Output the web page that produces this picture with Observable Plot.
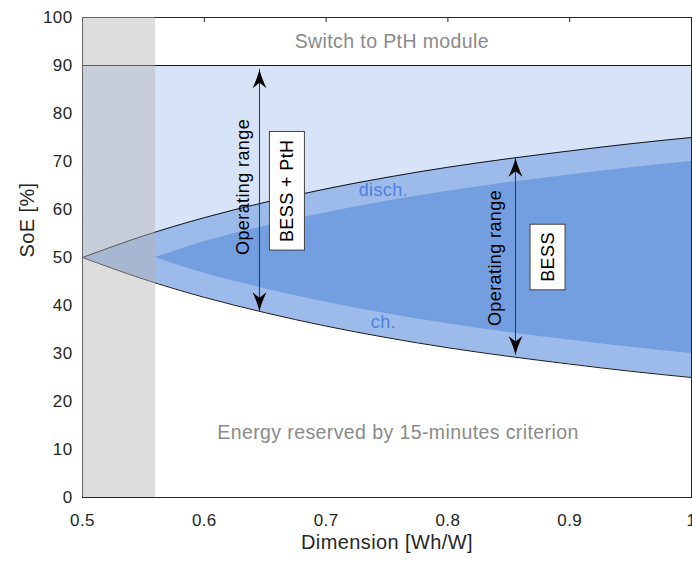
<!DOCTYPE html>
<html>
<head>
<meta charset="utf-8">
<script src="https://cdn.jsdelivr.net/npm/d3@7"></script>
<script src="https://cdn.jsdelivr.net/npm/@observablehq/plot@0.6"></script>
<style>
  html, body { margin: 0; padding: 0; background: #fff; }
  #chart svg text { letter-spacing: 0.4px; }
</style>
</head>
<body>
<div id="chart"></div>
<script>
// State-of-energy envelope versus storage dimension
const dimension = [0.5, 0.55, 0.6, 0.65, 0.7, 0.75, 0.8, 0.85, 0.9, 0.95, 1.0];
const soeUpper  = [50, 54.5, 58.3, 61.5, 64.3, 66.7, 68.8, 70.6, 72.2, 73.7, 75];
const soeLower  = [50, 45.5, 41.7, 38.5, 35.7, 33.3, 31.2, 29.4, 27.8, 26.3, 25];

// BESS-only operating band (starts where the greyed-out region ends)
const dimensionBess = [0.56, 0.6, 0.65, 0.7, 0.75, 0.8, 0.85, 0.9, 0.95, 1.0];
const bessUpper     = [50, 53.3, 56.5, 59.3, 61.7, 63.8, 65.6, 67.2, 68.7, 70];
const bessLower     = [50, 46.7, 43.5, 40.7, 38.3, 36.2, 34.4, 32.8, 31.3, 30];

const pthLimit = 90;
const excludedRange = [0.5, 0.56];

const xTicks = [0.5, 0.6, 0.7, 0.8, 0.9, 1];
const xTickLabels = ["0.5", "0.6", "0.7", "0.8", "0.9", "1"];
const yTicks = [0, 10, 20, 30, 40, 50, 60, 70, 80, 90, 100];
const topTicks = [0.6, 0.7, 0.8, 0.9];

// Operating-range arrows
const arrowX    = [0.6453, 0.8555];
const arrowLow  = [38.8, 29.7];
const arrowHigh = [89.2, 70.8];

// Annotation texts
const noteText = ["Switch to PtH module", "Energy reserved by 15-minutes criterion"];
const noteX = [0.754, 0.759];
const noteY = [95, 13.5];

const bandText = ["disch.", "ch."];
const bandX = [0.747, 0.747];
const bandY = [64, 36.5];

const rangeText = ["Operating range", "Operating range"];
const rangeX = [0.632, 0.839];
const rangeY = [64.7, 49.9];

const boxText = ["BESS + PtH", "BESS"];
const boxX = [0.668, 0.882];
const boxY = [63.9, 50.1];

const outer = dimension.map((x, i) => ({x, hi: soeUpper[i], lo: soeLower[i]}));
const inner = dimensionBess.map((x, i) => ({x, hi: bessUpper[i], lo: bessLower[i]}));
const arrows = arrowX.map((x, i) => ({x, lo: arrowLow[i], hi: arrowHigh[i]}));
const notes = noteText.map((t, i) => ({t, x: noteX[i], y: noteY[i]}));
const bands = bandText.map((t, i) => ({t, x: bandX[i], y: bandY[i]}));
const ranges = rangeText.map((t, i) => ({t, x: rangeX[i], y: rangeY[i]}));
const boxes = boxText.map((t, i) => ({t, x: boxX[i], y: boxY[i]}));

// Concave-back arrowhead, tip at the origin, body extending along +y
const arrowHead = {
  draw(ctx) {
    ctx.moveTo(0, 0);
    ctx.bezierCurveTo(1.5, 6, 4, 13, 7, 19);
    ctx.lineTo(0, 13.5);
    ctx.lineTo(-7, 19);
    ctx.bezierCurveTo(-4, 13, -1.5, 6, 0, 0);
    ctx.closePath();
  }
};

const font = "'Liberation Sans', Arial, Helvetica, sans-serif";
const ink = "#262626";

const svg = Plot.plot({
  width: 692,
  height: 563,
  marginLeft: 82,
  marginRight: 1,
  marginTop: 17,
  marginBottom: 66,
  style: {fontFamily: font, background: "#fff", overflow: "visible"},
  x: {domain: [0.5, 1]},
  y: {domain: [0, 100]},
  marks: [
    Plot.areaY(outer, {x: "x", y1: "hi", y2: pthLimit, fill: "#d7e4f7", curve: "monotone-x"}),
    Plot.areaY(outer, {x: "x", y1: "lo", y2: "hi", fill: "#9dbbea", curve: "monotone-x"}),
    Plot.areaY(inner, {x: "x", y1: "lo", y2: "hi", fill: "#739fe1", curve: "monotone-x"}),
    Plot.lineY(outer, {x: "x", y: "hi", stroke: "#000", strokeWidth: 0.9, curve: "monotone-x"}),
    Plot.lineY(outer, {x: "x", y: "lo", stroke: "#000", strokeWidth: 0.9, curve: "monotone-x"}),
    Plot.ruleY([pthLimit], {stroke: "#000", strokeWidth: 0.9}),
    Plot.ruleX(topTicks, {x: d => d, y1: 100, y2: 100, insetBottom: -5, stroke: ink}),
    Plot.frame({stroke: ink, strokeWidth: 1}),
    Plot.axisX({ticks: xTicks, tickSize: 0, tickPadding: 16, fontSize: 17, fill: ink,
      tickFormat: d => xTickLabels[xTicks.indexOf(d)], label: null}),
    Plot.axisY({ticks: yTicks, tickSize: 0, tickPadding: 10, fontSize: 17, fill: ink, label: null}),
    Plot.text(["Dimension [Wh/W]"], {frameAnchor: "bottom", dy: 51, fontSize: 20, fill: ink}),
    Plot.text(["SoE [%]"], {frameAnchor: "left", dx: -55, rotate: -90, fontSize: 20, fill: ink}),
    // operating-range arrows
    Plot.ruleX(arrows, {x: "x", y1: "lo", y2: "hi", stroke: "#333", strokeWidth: 1}),
    Plot.dot(arrows, {x: "x", y: "hi", symbol: arrowHead, fill: "#000", stroke: "none"}),
    Plot.dot(arrows, {x: "x", y: "lo", symbol: arrowHead, rotate: 180, fill: "#000", stroke: "none"}),
    Plot.text(notes, {x: "x", y: "y", text: "t", fontSize: 19.5, fill: "#8a8a8a"}),
    Plot.text(bands, {x: "x", y: "y", text: "t", fontSize: 18, fill: "#4d82dc"}),
    Plot.text(ranges, {x: "x", y: "y", text: "t", rotate: -90, fontSize: 18, fill: "#000"}),
    Plot.text(boxes, {x: "x", y: "y", text: "t", rotate: -90, fontSize: 18, fill: "#000"}),
    // greyed-out dimension range drawn over everything
    Plot.rect([{x1: excludedRange[0], x2: excludedRange[1]}], {x1: "x1", x2: "x2", fill: "#b4b4b4", fillOpacity: 0.45})
  ]
});

document.getElementById("chart").append(svg);

// White framed boxes behind the boxed labels
svg.querySelectorAll("text").forEach(t => {
  if (!boxText.includes(t.textContent)) return;
  const b = t.getBBox();
  const padAlong = 8, padAcross = 7.5;
  const r = document.createElementNS("http://www.w3.org/2000/svg", "rect");
  r.setAttribute("x", b.x - padAlong);
  r.setAttribute("y", b.y - padAcross);
  r.setAttribute("width", b.width + 2 * padAlong);
  r.setAttribute("height", b.height + 2 * padAcross);
  r.setAttribute("fill", "#fff");
  r.setAttribute("stroke", "#333");
  r.setAttribute("stroke-width", "0.9");
  if (t.getAttribute("transform")) r.setAttribute("transform", t.getAttribute("transform"));
  t.parentNode.insertBefore(r, t);
});
</script>
</body>
</html>
